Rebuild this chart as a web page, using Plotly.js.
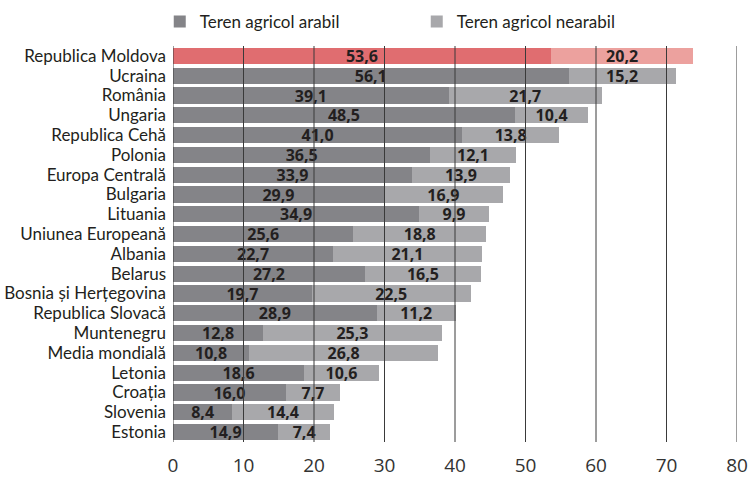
<!DOCTYPE html>
<html><head><meta charset="utf-8">
<script src="https://cdn.plot.ly/plotly-3.0.1.min.js"></script>
<style>html,body{margin:0;padding:0;background:#fff}#chart{width:750px;height:477px}</style>
</head><body><div id="chart"></div>
<script>
const categories = ["Republica Moldova","Ucraina","România","Ungaria","Republica Cehă","Polonia","Europa Centrală","Bulgaria","Lituania","Uniunea Europeană","Albania","Belarus","Bosnia și Herțegovina","Republica Slovacă","Muntenegru","Media mondială","Letonia","Croația","Slovenia","Estonia"];
const arabil = [53.6,56.1,39.1,48.5,41.0,36.5,33.9,29.9,34.9,25.6,22.7,27.2,19.7,28.9,12.8,10.8,18.6,16.0,8.4,14.9];
const nearabil = [20.2,15.2,21.7,10.4,13.8,12.1,13.9,16.9,9.9,18.8,21.1,16.5,22.5,11.2,25.3,26.8,10.6,7.7,14.4,7.4];
const xTicks = [0,10,20,30,40,50,60,70,80];
const seriesNames = ["Teren agricol arabil","Teren agricol nearabil"];

const highlight = "Republica Moldova";
const darkCol = "#848488", lightCol = "#a8a8ab", redCol = "#e06d70", pinkCol = "#eca19e";
const legendDark = "#848488", legendLight = "#a8a8ab";
const labelFont = {family:"Open Sans", size:16, color:"#231f20", weight:"bold"};
const catFont = {family:"Lato", size:17, color:"#231f20"};

function fmt(v){return v.toFixed(1).replace('.',',');}

const t1 = {
  type:"bar", orientation:"h", name:seriesNames[0], y:categories, x:arabil, showlegend:false,
  marker:{color:categories.map(c=>c===highlight?redCol:darkCol)},
  text:arabil.map(fmt), textposition:"inside",
  insidetextanchor:"middle", constraintext:"none", textangle:0,
  textfont:labelFont, hoverinfo:"none"
};
const t2 = {
  type:"bar", orientation:"h", name:seriesNames[1], y:categories, x:nearabil, showlegend:false,
  marker:{color:categories.map(c=>c===highlight?pinkCol:lightCol)},
  text:nearabil.map(fmt), textposition:"inside",
  insidetextanchor:"middle", constraintext:"none", textangle:0,
  textfont:labelFont, hoverinfo:"none"
};
const l1 = {type:"bar", orientation:"h", name:seriesNames[0], x:[null], y:[null], marker:{color:legendDark}, showlegend:true, hoverinfo:"none"};
const l2 = {type:"bar", orientation:"h", name:seriesNames[1], x:[null], y:[null], marker:{color:legendLight}, showlegend:true, hoverinfo:"none"};

const shapes = xTicks.map(v=>({type:"line", xref:"x", yref:"paper", x0:v, x1:v, y0:0, y1:1, layer:"above", line:{color:"#3a3a3a", width:1}}));

const layout = {
  width:750, height:477, barmode:"stack", bargap:0.19,
  margin:{l:173, r:13, t:46, b:35, autoexpand:false},
  paper_bgcolor:"#fff", plot_bgcolor:"#fff",
  showlegend:true,
  legend:{orientation:"h", xref:"container", yref:"container", x:0.213, y:0.954, xanchor:"left", yanchor:"middle",
    font:{family:"Lato", size:17, color:"#231f20"}, entrywidth:212, entrywidthmode:"pixels", traceorder:"normal", bgcolor:"rgba(0,0,0,0)"},
  xaxis:{range:[0,80], tickvals:xTicks, ticktext:xTicks.map(String), showgrid:false, zeroline:false, showline:false,
    ticks:"", ticklabelstandoff:10, tickfont:{family:"Open Sans", size:19, color:"#333"}, fixedrange:true},
  yaxis:{type:"category", categoryorder:"array", categoryarray:categories, autorange:"reversed", showgrid:false, zeroline:false,
    tickmode:"array", tickvals:categories, ticktext:categories,
    showline:false, ticks:"", ticklabelstandoff:6, tickfont:catFont, fixedrange:true},
  shapes:shapes
};
Plotly.newPlot("chart",[t1,t2,l1,l2],layout,{displayModeBar:false, staticPlot:true});
</script></body></html>
